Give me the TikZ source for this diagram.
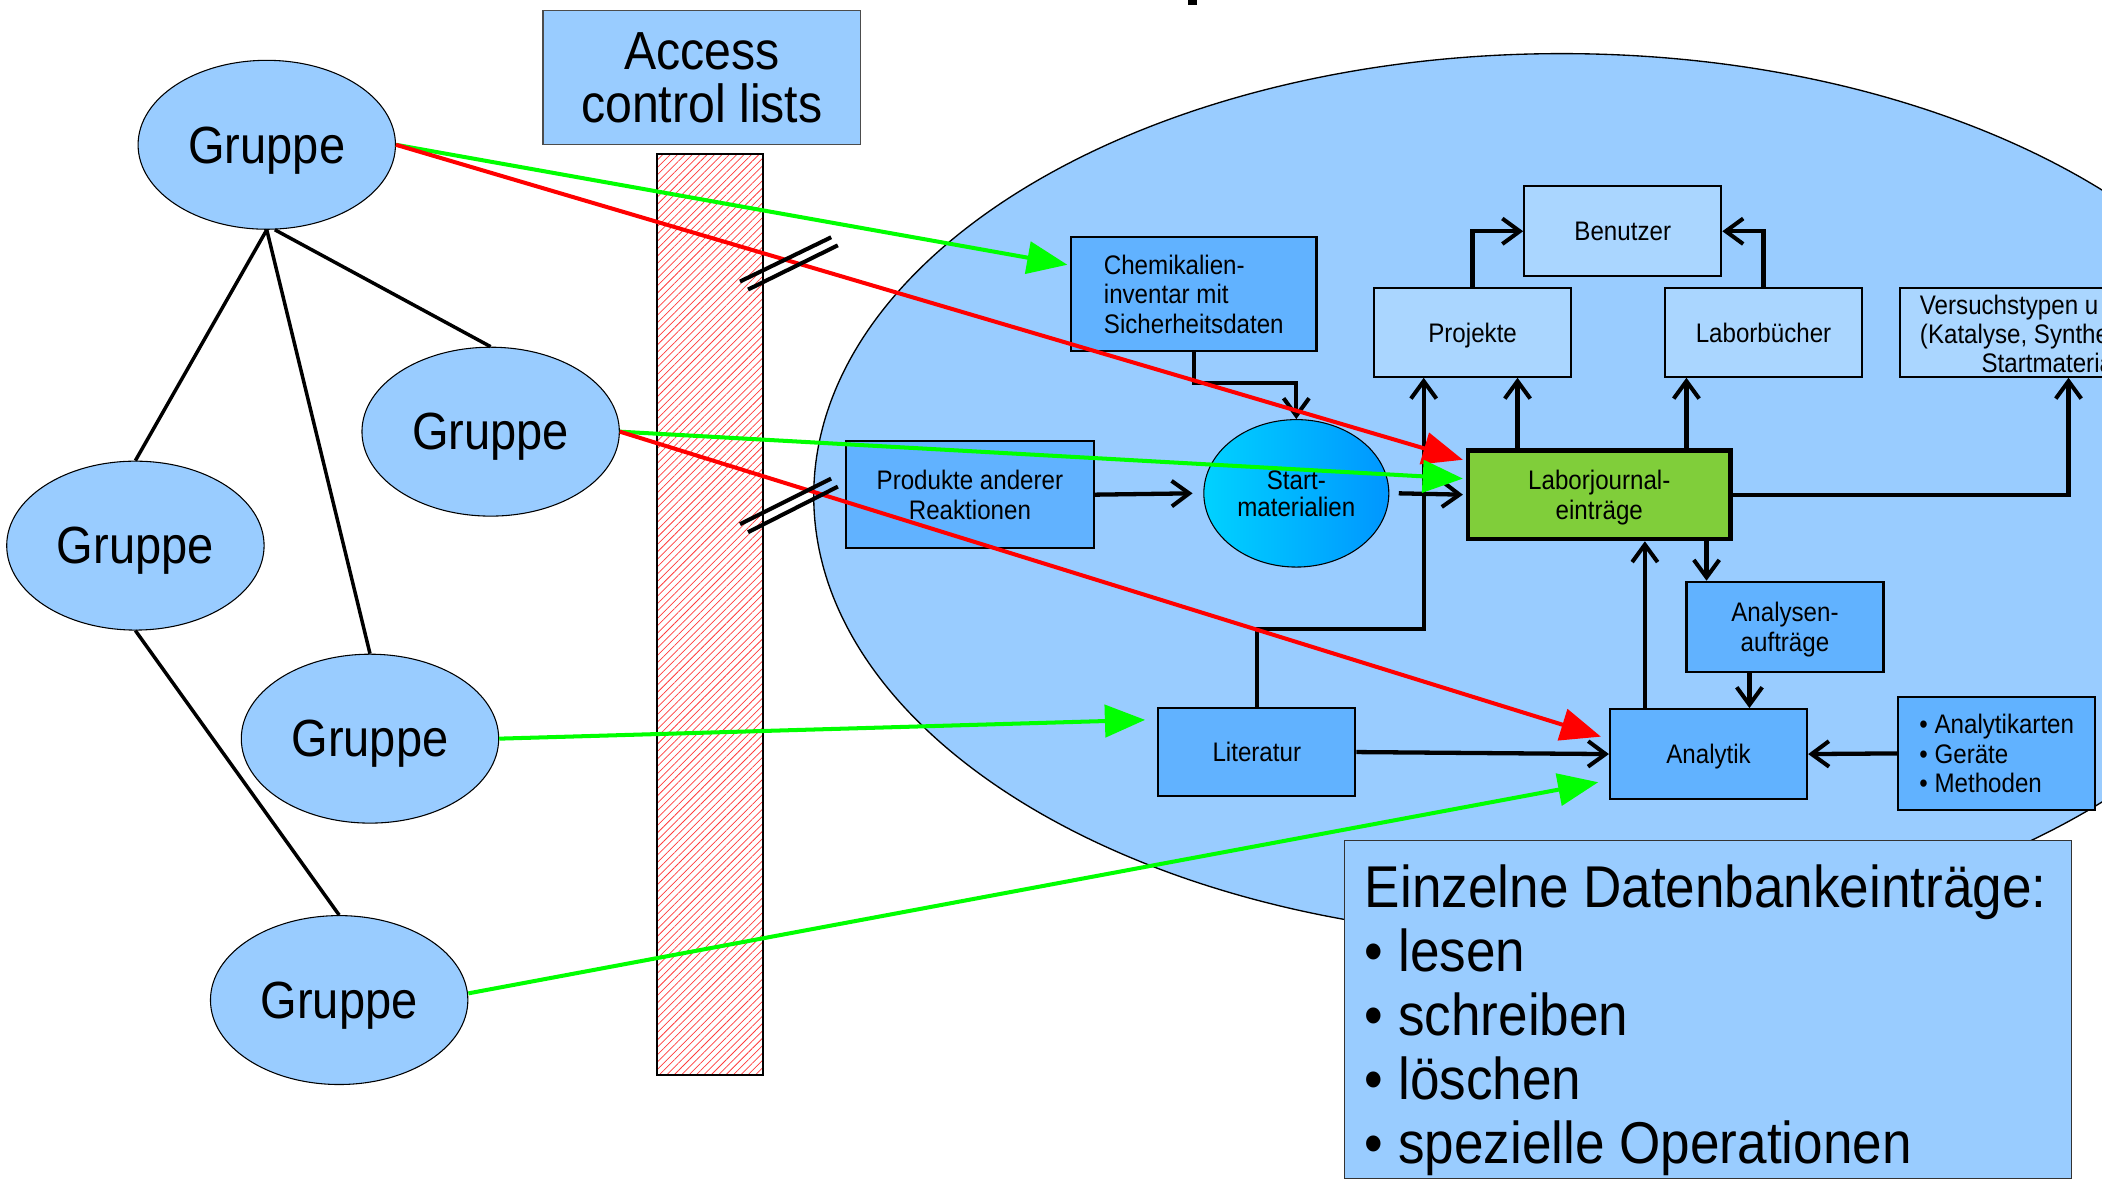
\documentclass[tikz,border=0pt]{standalone}
\usepackage{fontspec}
\setmainfont{Liberation Sans}[FakeStretch=0.9]
\usetikzlibrary{shapes.geometric, arrows.meta, patterns.meta}
\definecolor{dbblue}{RGB}{153,204,255}
\definecolor{boxblue}{RGB}{97,178,255}
\definecolor{paleblue}{RGB}{170,214,255}
\definecolor{labgreen}{RGB}{128,206,58}
\definecolor{startleft}{RGB}{0,210,255}
\definecolor{startright}{RGB}{0,150,255}
\definecolor{okgreen}{RGB}{0,255,0}
\definecolor{nored}{RGB}{255,0,0}
\definecolor{hatchred}{RGB}{255,60,60}
\begin{document}
\begin{tikzpicture}[x=1pt, y=-1pt,
    grp/.style = {ellipse, draw=black, line width=0.8pt, fill=dbblue, minimum width=192pt, minimum height=126pt, inner sep=0pt, text depth=0pt, font=\fontsize{39}{44}\selectfont},
    tie/.style = {line width=2.6pt},
    entry/.style = {rectangle, draw=black, line width=1.6pt, fill=boxblue, inner sep=0pt, align=center, text depth=0pt, font=\fontsize{20}{22}\selectfont},
    pale/.style = {entry, fill=paleblue},
    conn/.style = {line width=3.2pt, -{Straight Barb[length=13pt, width=19pt, line width=3pt]}},
    acc/.style = {line width=3pt, -{Triangle[length=30pt, width=24pt]}},
    brk/.style = {line width=3pt}]
    \useasboundingbox (0,0) rectangle (1568,880);
    \clip (0,0) rectangle (1568,880);
    \fill (886,0) rectangle (893,4);

    % Gruppen
    \node[grp] (g1) at (199,108) {Gruppe};
    \node[grp] (g2) at (366,322) {Gruppe};
    \node[grp] (g3) at (101,407) {Gruppe};
    \node[grp] (g4) at (276,551) {Gruppe};
    \node[grp] (g5) at (253,746) {Gruppe};
    \draw[tie] (g1.south) -- (g3.north);
    \draw[tie] (g1.south) -- (g4.north);
    \draw[tie] ([xshift=6pt]g1.south) -- (g2.north);
    \draw[tie] (g3.south) -- (g5.north);

    % Access control lists
    \node[rectangle, draw=black!70, line width=1pt, fill=dbblue, minimum width=237pt, minimum height=100pt, align=center, font=\fontsize{40}{39}\selectfont] (acl) at (523.5,58) {Access\\control lists};
    \node[rectangle, draw=black, line width=1.5pt, minimum width=79pt, minimum height=687pt, pattern={Lines[angle=45, distance=3.9pt, line width=0.55pt]}, pattern color=hatchred] (wall) at (529.5,458.5) {};

    % Datenbank
    \node[ellipse, draw=black, line width=1pt, fill=dbblue, minimum width=1116pt, minimum height=660pt] (db) at (1165,370) {};
    \node[entry, minimum width=183pt, minimum height=85pt, align=left] (chem) at (890.5,219.5) {Chemikalien-\\inventar mit\\Sicherheitsdaten};
    \node[entry, minimum width=185pt, minimum height=80pt] (prod) at (723.5,369) {Produkte anderer\\Reaktionen};
    \node[ellipse, draw=black, line width=0.8pt, left color=startleft, right color=startright, minimum width=138pt, minimum height=110pt, inner sep=0pt, align=center, text depth=0pt, font=\fontsize{20}{20}\selectfont] (start) at (967,368) {Start-\\materialien};
    \node[entry, fill=labgreen, line width=3.5pt, minimum width=196pt, minimum height=66pt] (labor) at (1193,369) {Laborjournal-\\einträge};
    \node[pale, minimum width=147pt, minimum height=66pt] (proj) at (1098.5,248) {Projekte};
    \node[pale, minimum width=147pt, minimum height=66pt] (lbuch) at (1315.5,248) {Laborbücher};
    \node[pale, minimum width=147pt, minimum height=67pt] (benutzer) at (1210.5,172.5) {Benutzer};
    \node[pale, minimum width=252pt, minimum height=66pt] (vtyp) at (1543,248) {};
    \node[anchor=west, inner sep=0pt, align=left, font=\fontsize{20}{21.5}\selectfont] (vtyptxt) at (1432,249) {Versuchstypen u\\(Katalyse, Synthe\\\hspace*{46pt}Startmateria};
    \node[entry, minimum width=147pt, minimum height=67pt] (anauf) at (1331.5,467.5) {Analysen-\\aufträge};
    \node[entry, minimum width=147pt, minimum height=66pt] (lit) at (937.5,561) {Literatur};
    \node[entry, minimum width=147pt, minimum height=67pt] (analytik) at (1274.5,562.5) {Analytik};
    \node[entry, minimum width=147pt, minimum height=84pt, align=left] (methods) at (1489.5,562) {• Analytikarten\\• Geräte\\• Methoden};

    % Verbindungen
    \draw[conn] (chem.south) -- ++(0,23) -| (start.north);
    \draw[conn] (prod.east) -- ([xshift=-8pt]start.west);
    \draw[conn] ([xshift=7pt]start.east) -- ([xshift=-2pt]labor.west);
    \draw[conn] (lit.north) -- ++(0,-58) -| ([xshift=-36.5pt]proj.south);
    \draw[conn] ([xshift=-61pt]labor.north) -- ([xshift=-61pt]labor.north |- proj.south);
    \draw[conn] ([xshift=65pt]labor.north) -- ([xshift=65pt]labor.north |- lbuch.south);
    \draw[conn] (proj.north) |- (benutzer.west);
    \draw[conn] (lbuch.north) |- (benutzer.east);
    \draw[conn] (labor.east) -| (vtyp.south);
    \draw[conn] ([xshift=80pt]labor.south) -- ([xshift=80pt]labor.south |- anauf.north);
    \draw[conn] ([xshift=-26.5pt]anauf.south) -- ([xshift=-26.5pt]anauf.south |- analytik.north);
    \draw[conn] ([xshift=-47.5pt]analytik.north) -- ([xshift=-47.5pt]analytik.north |- labor.south);
    \draw[conn] (lit.east) -- (analytik.west);
    \draw[conn] (methods.west) -- (analytik.east);

    % Zugriffe
    \draw[acc, okgreen] (g1.east) -- ([xshift=-2pt, yshift=22pt]chem.west);
    \draw[acc, nored] (g1.east) -- ([xshift=-2pt, yshift=26pt]labor.west);
    \draw[acc, okgreen] (g2.east) -- ([xshift=-2pt, yshift=12pt]labor.west);
    \draw[acc, nored] (g2.east) -- ([xshift=-6pt, yshift=13pt]analytik.west);
    \draw[acc, okgreen] (g4.east) -- ([xshift=-9pt, yshift=24pt]lit.west);
    \draw[acc, okgreen] ([yshift=5pt]g5.east) -- ([xshift=-8pt, yshift=-21pt]analytik.west);

    % gesperrt
    \draw[brk] (552,210) -- (620,177) (558,216) -- (625,183);
    \draw[brk] (552,391) -- (620,357) (558,397) -- (625,363);

    % Rechte
    \node[rectangle, draw=black!80, line width=1pt, fill=dbblue, minimum width=542pt, minimum height=252pt] (einz) at (1274,753) {};
    \node[anchor=north west, inner sep=0pt, align=left, font=\fontsize{44}{47.75}\selectfont] (einztxt) at (1018,645) {Einzelne Datenbankeinträge:\\• lesen\\• schreiben\\• löschen\\• spezielle Operationen};
\end{tikzpicture}
\end{document}
